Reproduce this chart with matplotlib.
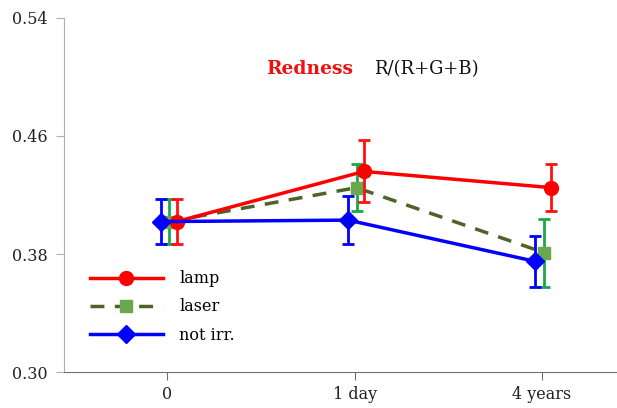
import numpy as np
import matplotlib
matplotlib.use("Agg")
from matplotlib import pyplot as plt

# Data
categories = ["0", "1 day", "4 years"]
lamp = [0.402, 0.436, 0.425]
lamp_err = [0.015, 0.021, 0.016]
laser = [0.402, 0.425, 0.381]
laser_err = [0.015, 0.016, 0.023]
notirr = [0.402, 0.403, 0.375]
notirr_err = [0.015, 0.016, 0.017]
yticks = [0.30, 0.38, 0.46, 0.54]

plt.rcParams['font.family'] = ['DejaVu Serif']

fig = plt.figure(figsize=(6.17, 4.08), dpi=100)
ax = fig.add_axes([0.104, 0.088, 0.896, 0.868])

x = np.arange(len(categories))
eb = dict(fmt='none', elinewidth=2, capsize=4, capthick=2)

# lamp
ax.errorbar(x + 0.05, lamp, yerr=lamp_err, ecolor='#ff1010', zorder=3, **eb)
h1, = ax.plot(x + 0.05, lamp, color='#ff0000', lw=2.5, marker='o', ms=10,
              label='lamp', zorder=3)
# laser
ax.errorbar(x + 0.01, laser, yerr=laser_err, ecolor='#1aa84a', zorder=2, **eb)
h2, = ax.plot(x + 0.01, laser, color='#4f6228', lw=2.5, ls=(0, (4, 3)),
              marker='s', ms=9, mfc='#6aa84f', mec='#6aa84f', label='laser', zorder=2)
# not irr.
ax.errorbar(x - 0.035, notirr, yerr=notirr_err, ecolor='#0000ff', zorder=4, **eb)
h3, = ax.plot(x - 0.035, notirr, color='#0000ff', lw=2.5, marker='D', ms=9,
              label='not irr.', zorder=4)

ax.set_xlim(-0.55, 2.4)
ax.set_ylim(0.30, 0.54)
ax.set_yticks(yticks)
ax.set_yticklabels(["%.2f" % v for v in yticks], fontsize=11.5, color='#222222')
ax.set_xticks(x)
ax.set_xticklabels(categories, fontsize=11.5, color='#222222')

for s in ['top', 'right']:
    ax.spines[s].set_visible(False)
ax.spines['left'].set_color('#b0b0b0')
ax.spines['bottom'].set_color('#707070')
ax.tick_params(axis='y', length=6, color='#b0b0b0', pad=6)
ax.tick_params(axis='x', length=6, color='#707070', pad=4)

ax.text(0.365, 0.855, "Redness", transform=ax.transAxes, color='#ee1111',
        fontsize=13.5, fontweight='bold', va='center')
ax.text(0.56, 0.855, "R/(R+G+B)", transform=ax.transAxes, color='#111111',
        fontsize=13, va='center')

ax.legend(handles=[h1, h2, h3], loc='lower left', bbox_to_anchor=(0.02, 0.04),
          frameon=False, fontsize=11.5, handlelength=4.6, labelspacing=0.7,
          handletextpad=1.0)

fig.savefig("out.png", dpi=100)
